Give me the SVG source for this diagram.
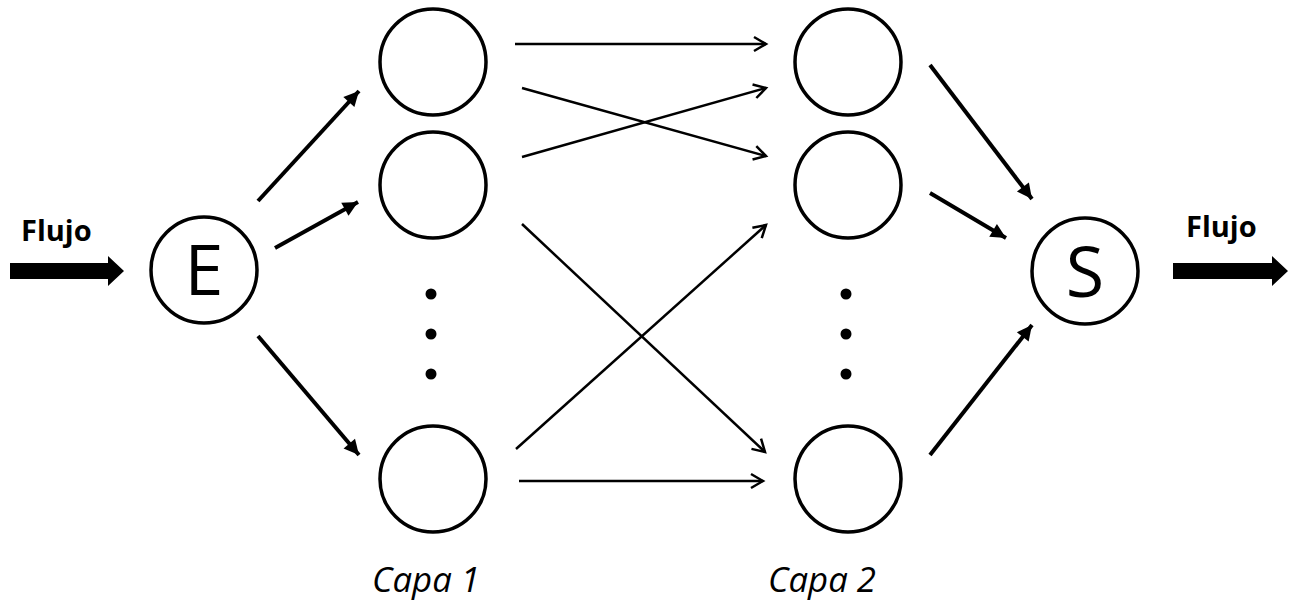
<svg xmlns="http://www.w3.org/2000/svg" width="1289" height="603" viewBox="0 0 1289 603">
  <style>
    .node { fill: #fff; stroke: #000; stroke-width: 3.5; }
    .big { font-family: "Open Sans", "Liberation Sans", sans-serif; font-size: 70px; fill: #000; text-anchor: middle; }
    .flow { font-family: "Open Sans", "Liberation Sans", sans-serif; font-size: 29px; font-weight: bold; fill: #000; }
    .layer { font-family: "Open Sans", "Liberation Sans", sans-serif; font-size: 35px; font-style: italic; fill: #000; }
    .thick { stroke: #000; stroke-width: 4; fill: none; marker-end: url(#solid); }
    .thin { stroke: #000; stroke-width: 2.5; fill: none; marker-end: url(#open); }
    .dot { fill: #000; }
  </style>
  <defs>
    <marker id="solid" markerUnits="userSpaceOnUse" markerWidth="16" markerHeight="16" refX="15" refY="7.5" orient="auto" overflow="visible">
      <path d="M0,0 L15,7.5 L0,15 z" fill="#000"/>
    </marker>
    <marker id="open" markerUnits="userSpaceOnUse" markerWidth="14" markerHeight="16" refX="12" refY="7.5" orient="auto" overflow="visible">
      <path d="M0,0.5 L12,7.5 L0,14.5" fill="none" stroke="#000" stroke-width="2.5" stroke-linejoin="miter"/>
    </marker>
  </defs>

  <!-- input flow -->
  <g id="flow-in">
    <text class="flow" x="21" y="241">Flujo</text>
    <polygon points="10,263 108,263 108,256 124,271 108,286 108,279 10,279" fill="#000"/>
  </g>

  <!-- output flow -->
  <g id="flow-out">
    <text class="flow" x="1186" y="237">Flujo</text>
    <polygon points="1173,263 1272,263 1272,256 1288,271 1272,286 1272,279 1173,279" fill="#000"/>
  </g>

  <!-- entry node -->
  <g id="node-E">
    <circle class="node" cx="204" cy="270" r="53"/>
    <text class="big" x="204" y="295">E</text>
  </g>

  <!-- layer 1 -->
  <g id="layer1">
    <g id="l1-n1"><circle class="node" cx="433" cy="62" r="53"/></g>
    <g id="l1-n2"><circle class="node" cx="433" cy="185" r="53"/></g>
    <g id="l1-dots">
      <circle class="dot" cx="431" cy="294" r="5.5"/>
      <circle class="dot" cx="431" cy="334" r="5.5"/>
      <circle class="dot" cx="431" cy="374" r="5.5"/>
    </g>
    <g id="l1-n3"><circle class="node" cx="433" cy="479" r="53"/></g>
    <text class="layer" x="372" y="592" textLength="108" lengthAdjust="spacingAndGlyphs">Capa 1</text>
  </g>

  <!-- layer 2 -->
  <g id="layer2">
    <g id="l2-n1"><circle class="node" cx="848" cy="62" r="53"/></g>
    <g id="l2-n2"><circle class="node" cx="848" cy="185" r="53"/></g>
    <g id="l2-dots">
      <circle class="dot" cx="846" cy="294" r="5.5"/>
      <circle class="dot" cx="846" cy="334" r="5.5"/>
      <circle class="dot" cx="846" cy="374" r="5.5"/>
    </g>
    <g id="l2-n3"><circle class="node" cx="848" cy="479" r="53"/></g>
    <text class="layer" x="768" y="592" textLength="108" lengthAdjust="spacingAndGlyphs">Capa 2</text>
  </g>

  <!-- exit node -->
  <g id="node-S">
    <circle class="node" cx="1085" cy="271" r="53"/>
    <text class="big" x="1085" y="297">S</text>
  </g>

  <!-- connectors -->
  <g id="connectors">
    <line class="thick" x1="258" y1="201" x2="359" y2="91"/>
    <line class="thick" x1="275" y1="248" x2="358" y2="202"/>
    <line class="thick" x1="258" y1="336" x2="359" y2="455"/>

    <line class="thin" x1="515" y1="44" x2="766" y2="44"/>
    <line class="thin" x1="522" y1="88" x2="766" y2="156"/>
    <line class="thin" x1="522" y1="157" x2="766" y2="88"/>
    <line class="thin" x1="522" y1="224" x2="765" y2="452"/>
    <line class="thin" x1="516" y1="449" x2="766" y2="225"/>
    <line class="thin" x1="519" y1="481" x2="763" y2="481"/>

    <line class="thick" x1="930" y1="65" x2="1032" y2="199"/>
    <line class="thick" x1="930" y1="193" x2="1006" y2="238"/>
    <line class="thick" x1="930" y1="455" x2="1032" y2="325"/>
  </g>
</svg>
